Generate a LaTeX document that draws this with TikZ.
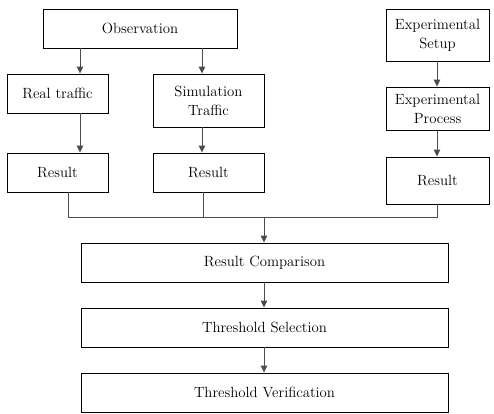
\documentclass[tikz,border=0pt]{standalone}
\usetikzlibrary{arrows.meta}
\begin{document}
\begin{tikzpicture}[x=1pt,y=-1pt,
  box/.style={draw=black,line width=0.9pt,rectangle,inner sep=0pt,align=center,
    font=\fontsize{14.8}{19}\selectfont},
  conn/.style={draw=black!70,line width=1pt},
  arr/.style={conn,-{Triangle[width=6.5pt,length=7pt]}}]
\useasboundingbox (0,0) rectangle (494,413);
\node[box,minimum width=194pt,minimum height=39pt] (obs) at (140,28.5) {Observation};
\node[box,minimum width=101pt,minimum height=39pt] (real) at (57.5,93.5) {Real traffic};
\node[box,minimum width=111pt,minimum height=53pt] (sim) at (208.5,100.5) {Simulation\\Traffic};
\node[box,minimum width=101pt,minimum height=39pt] (res1) at (57.5,172.5) {Result};
\node[box,minimum width=111pt,minimum height=39pt] (res2) at (208.5,172.5) {Result};
\node[box,minimum width=103pt,minimum height=52pt] (setup) at (437.5,35) {Experimental\\Setup};
\node[box,minimum width=103pt,minimum height=43pt] (proc) at (437.5,108.5) {Experimental\\Process};
\node[box,minimum width=103pt,minimum height=47pt] (res3) at (437.5,180.5) {Result};
\node[box,minimum width=367pt,minimum height=39pt] (comp) at (264.5,262.5) {Result Comparison};
\node[box,minimum width=367pt,minimum height=39pt] (sel) at (264.5,327.5) {Threshold Selection};
\node[box,minimum width=367pt,minimum height=39pt] (ver) at (264.5,392.5) {Threshold Verification};
\coordinate (xa) at (80,0);
\coordinate (xb) at (202,0);
\coordinate (xc) at (437,0);
\coordinate (d1) at (68,217);
\coordinate (d2) at (203,217);
\coordinate (d3) at (437,217);
\coordinate (dm) at (264,217);
\draw[arr] (obs.south -| xa) -- (real.north -| xa);
\draw[arr] (obs.south -| xb) -- (sim.north -| xb);
\draw[arr] (real.south -| xa) -- (res1.north -| xa);
\draw[arr] (sim.south -| xb) -- (res2.north -| xb);
\draw[arr] (setup.south -| xc) -- (proc.north -| xc);
\draw[arr] (proc.south -| xc) -- (res3.north -| xc);
\draw[conn] (res1.south -| d1) -- (d1) -- (d3) -- (res3.south -| d3);
\draw[conn] (res2.south -| d2) -- (d2);
\draw[arr] (dm) -- (comp.north -| dm);
\draw[arr] (comp.south -| dm) -- (sel.north -| dm);
\draw[arr] (sel.south -| dm) -- (ver.north -| dm);
\end{tikzpicture}
\end{document}
